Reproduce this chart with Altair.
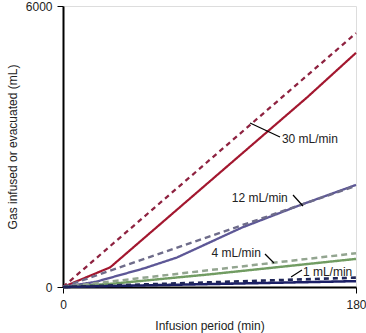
import altair as alt
import pandas as pd

red_solid_t = [0, 29, 150, 180]
red_solid_v = [0, 420, 4050, 5000]
red_dash_t = [0, 180]
red_dash_v = [0, 5420]

pur_solid_t = [0, 20, 50, 70, 110, 145, 180]
pur_solid_v = [0, 110, 400, 630, 1270, 1740, 2180]
pur_dash_t = [0, 180]
pur_dash_v = [0, 2160]

grn_solid_t = [0, 30, 90, 180]
grn_solid_v = [0, 70, 270, 600]
grn_dash_t = [0, 180]
grn_dash_v = [0, 720]

nav_solid_t = [0, 180]
nav_solid_v = [0, 125]
nav_dash_t = [0, 180]
nav_dash_v = [0, 200]

series = [
    ("r_s", red_solid_t, red_solid_v),
    ("r_d", red_dash_t, red_dash_v),
    ("p_s", pur_solid_t, pur_solid_v),
    ("p_d", pur_dash_t, pur_dash_v),
    ("g_s", grn_solid_t, grn_solid_v),
    ("g_d", grn_dash_t, grn_dash_v),
    ("n_s", nav_solid_t, nav_solid_v),
    ("n_d", nav_dash_t, nav_dash_v),
]
rows = []
for name, ts, vs in series:
    for t, v in zip(ts, vs):
        rows.append({"s": name, "t": t, "v": v})
df = pd.DataFrame(rows)

names = [s[0] for s in series]
colors = ["#a3172f", "#8e2240", "#5d5796", "#6e6c8a", "#719c62", "#93a590", "#1b1f66", "#1f2558"]
dashes = [[1, 0], [5, 4], [1, 0], [6, 4], [1, 0], [6, 4], [1, 0], [5, 4]]
widths = [2.2, 2.6, 2.2, 2.6, 2.2, 2.6, 2.4, 2.6]

# Annotations
lab_text = ["30 mL/min", "12 mL/min", "4 mL/min", "1 mL/min"]
lab_t = [134.5, 138.1, 121.6, 147.4]
lab_v = [3160, 1900, 726, 320]
lab_align = ["left", "right", "right", "left"]
lead_t1 = [114.9, 141.3, 124.1, 140.1]
lead_v1 = [3501, 1964, 705, 213]
lead_t2 = [133.3, 147.4, 129.6, 146.8]
lead_v2 = [3203, 1729, 512, 363]

labels = pd.DataFrame({"text": lab_text, "t": lab_t, "v": lab_v, "align": lab_align})
leaders = pd.DataFrame({"t1": lead_t1, "v1": lead_v1, "t2": lead_t2, "v2": lead_v2})

FONT = "Liberation Sans"

xscale = alt.Scale(domain=[0, 180], nice=False)
yscale = alt.Scale(domain=[0, 6000], nice=False)

lines = alt.Chart(df).mark_line().encode(
    x=alt.X("t:Q", scale=xscale,
            axis=alt.Axis(values=[0, 180], title="Infusion period (min)", grid=False,
                          domainColor="black", domainWidth=2, tickColor="black",
                          tickSize=6, labelFontSize=12, labelColor="#222",
                          labelFont=FONT, titleFont=FONT, titleFontSize=12,
                          titleFontWeight="normal", titleColor="#222",
                          labelPadding=6, titlePadding=10, labelFlush=False)),
    y=alt.Y("v:Q", scale=yscale,
            axis=alt.Axis(values=[0, 6000], format="d", title="Gas infused or evacuated (mL)", grid=False,
                          domainColor="black", domainWidth=2, tickColor="black",
                          tickSize=6, labelFontSize=12, labelColor="#222",
                          labelFont=FONT, titleFont=FONT, titleFontSize=12,
                          titleFontWeight="normal", titleColor="#222",
                          labelPadding=5, titlePadding=6, labelFlush=False)),
    color=alt.Color("s:N", scale=alt.Scale(domain=names, range=colors), legend=None),
    strokeDash=alt.StrokeDash("s:N", scale=alt.Scale(domain=names, range=dashes), legend=None),
    strokeWidth=alt.StrokeWidth("s:N", scale=alt.Scale(domain=names, range=widths), legend=None),
    order="t:Q",
)

left_labels = alt.Chart(labels[labels["align"] == "left"]).mark_text(
    align="left", baseline="middle", fontSize=12, font=FONT, color="#222"
).encode(x=alt.X("t:Q", scale=xscale), y=alt.Y("v:Q", scale=yscale), text="text:N")

right_labels = alt.Chart(labels[labels["align"] == "right"]).mark_text(
    align="right", baseline="middle", fontSize=12, font=FONT, color="#222"
).encode(x=alt.X("t:Q", scale=xscale), y=alt.Y("v:Q", scale=yscale), text="text:N")

lead = alt.Chart(leaders).mark_rule(color="black", strokeWidth=1.2).encode(
    x=alt.X("t1:Q", scale=xscale), y=alt.Y("v1:Q", scale=yscale),
    x2="t2:Q", y2="v2:Q",
)

chart = alt.layer(lines, lead, left_labels, right_labels).properties(
    width=293, height=281,
    autosize=alt.AutoSizeParams(type="none"),
    padding={"left": 63, "top": 6, "right": 10, "bottom": 46},
).configure_view(stroke=None).configure(background="white")

chart.save("out.html", embed_options={"renderer": "svg", "actions": False})
